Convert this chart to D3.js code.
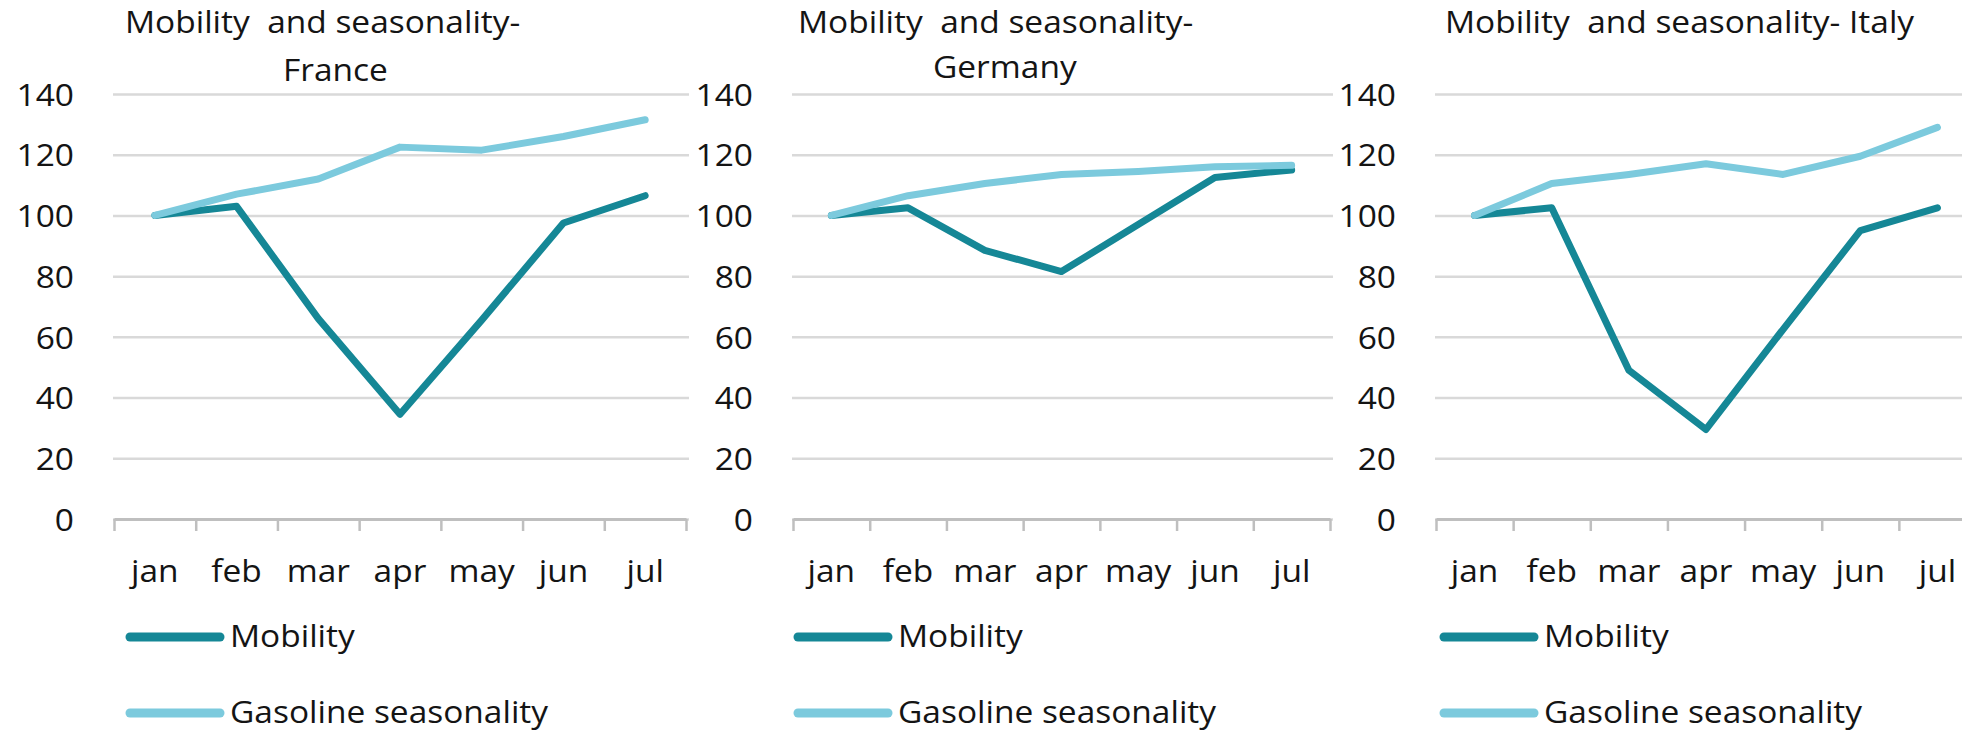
<!DOCTYPE html>
<html>
<head>
<meta charset="utf-8">
<script src="https://cdn.jsdelivr.net/npm/d3@7"></script>
<style>
	html, body { margin: 0; padding: 0; background: #ffffff; }
	svg { display: block; }
	text { font-family: "Open Sans", sans-serif; font-size: 31px; font-weight: 500; fill: #141414; white-space: pre; }
</style>
</head>
<body>
<svg id="chart" width="1962" height="733"></svg>
<script>
(function() {
	'use strict';

	var months = ['jan', 'feb', 'mar', 'apr', 'may', 'jun', 'jul'];
	var yTicks = [0, 20, 40, 60, 80, 100, 120, 140];
	var seriesNames = ['Mobility', 'Gasoline seasonality'];

	var franceMobility = [100, 103, 66, 34.5, 65.5, 97.5, 106.5];
	var franceGasoline = [100, 107, 112, 122.5, 121.5, 126, 131.5];
	var germanyMobility = [100, 102.5, 88.5, 81.5, 97, 112.5, 115];
	var germanyGasoline = [100, 106.5, 110.5, 113.5, 114.5, 116, 116.5];
	var italyMobility = [100, 102.5, 49, 29.5, 62.5, 95, 102.5];
	var italyGasoline = [100, 110.5, 113.5, 117, 113.5, 119.5, 129];

	// the source picture is a bit wider than tall, text gets the same stretch
	var SX = 1.08;
	var colors = ['#158796', '#7ccadd'];

	var panels = [
		{
			title : ['Mobility  and seasonality-', 'France'],
			titlePos : [[125, 33], [283, 81]],
			left : 114, right : 686,
			legendX : 127,
			series : [franceMobility, franceGasoline]
		},
		{
			title : ['Mobility  and seasonality-', 'Germany'],
			titlePos : [[798, 33], [933, 78]],
			left : 793, right : 1330,
			legendX : 795,
			series : [germanyMobility, germanyGasoline]
		},
		{
			title : ['Mobility  and seasonality- Italy'],
			titlePos : [[1445, 33]],
			left : 1436, right : 1976,
			legendX : 1441,
			series : [italyMobility, italyGasoline]
		}
	];

	var svg = d3.select('#chart');
	svg.append('rect')
		.attr('width', 1962)
		.attr('height', 733)
		.attr('fill', '#ffffff');

	var y = d3.scaleLinear()
		.domain([0, 140])
		.range([519, 94]);

	var drawPanel = function(p) {
		var g = svg.append('g');

		var x = d3.scaleBand()
			.domain(months)
			.range([p.left, p.right]);

		var xEdge = d3.scaleLinear()
			.domain([0, months.length])
			.range([p.left, p.right]);

		// gridlines + value labels
		var grid = g.append('g')
			.attr('transform', 'translate(' + (p.left - 1) + ',0)')
			.call(d3.axisLeft(y)
				.tickValues(yTicks)
				.tickSizeInner(-(p.right - p.left + 4))
				.tickSizeOuter(0));
		grid.select('.domain').remove();
		grid.selectAll('.tick line')
			.attr('stroke', '#d9d9d9')
			.attr('stroke-width', 2.5);
		grid.selectAll('.tick text')
			.attr('x', -39 / SX)
			.attr('dy', '0.36em')
			.attr('transform', 'scale(' + SX + ',1)');

		// category axis with ticks between months
		var axis = g.append('g')
			.attr('transform', 'translate(0,' + y(0) + ')')
			.call(d3.axisBottom(xEdge)
				.tickValues(d3.range(months.length + 1))
				.tickSizeInner(12)
				.tickSizeOuter(0)
				.tickFormat(''));
		axis.select('.domain')
			.attr('stroke', '#bfbfbf')
			.attr('stroke-width', 3);
		axis.selectAll('.tick line')
			.attr('stroke', '#bfbfbf')
			.attr('stroke-width', 2.5);

		var labels = g.append('g')
			.attr('transform', 'translate(0,' + y(0) + ')')
			.call(d3.axisBottom(x).tickSize(0));
		labels.select('.domain').remove();
		labels.selectAll('.tick text')
			.attr('y', 63)
			.attr('dy', 0)
			.attr('transform', 'scale(' + SX + ',1)');

		var line = d3.line()
			.x(function(d, i) {
				return x(months[i]) + x.bandwidth() / 2;
			})
			.y(function(d) {
				return y(d);
			});

		g.selectAll('.serie')
			.data(p.series)
			.enter().append('path')
			.attr('class', 'serie')
			.attr('fill', 'none')
			.attr('stroke', function(d, i) {
				return colors[i];
			})
			.attr('stroke-width', 7)
			.attr('stroke-linejoin', 'round')
			.attr('stroke-linecap', 'round')
			.attr('d', line);

		// titles
		g.selectAll('.title')
			.data(p.title)
			.enter().append('text')
			.attr('class', 'title')
			.attr('transform', function(d, i) {
				return 'translate(' + p.titlePos[i][0] + ',' + p.titlePos[i][1] + ') scale(' + SX + ',1)';
			})
			.text(function(d) {
				return d;
			});

		// legend, one row per series
		var legend = g.selectAll('.legend')
			.data(seriesNames)
			.enter().append('g')
			.attr('class', 'legend')
			.attr('transform', function(d, i) {
				return 'translate(' + p.legendX + ',' + (637 + i * 76) + ')';
			});
		legend.append('line')
			.attr('x1', 3)
			.attr('x2', 93)
			.attr('stroke', function(d, i) {
				return colors[i];
			})
			.attr('stroke-width', 9)
			.attr('stroke-linecap', 'round');
		legend.append('text')
			.attr('transform', 'translate(103,10) scale(' + SX + ',1)')
			.text(function(d) {
				return d;
			});
	};

	panels.forEach(drawPanel);
})();
</script>
</body>
</html>
